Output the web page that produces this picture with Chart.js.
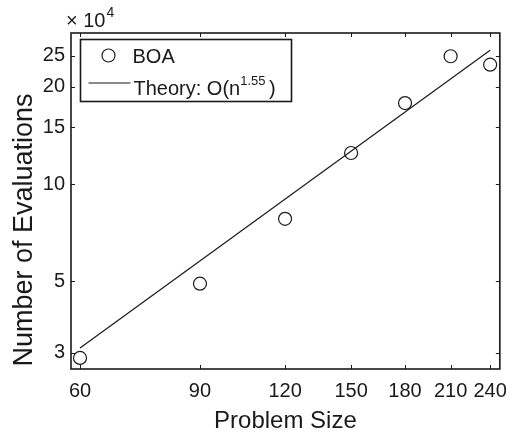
<!DOCTYPE html>
<html>
<head>
<meta charset="utf-8">
<script src="https://cdn.jsdelivr.net/npm/chart.js@4/dist/chart.umd.min.js"></script>
<style>
  body { margin: 0; background: #fff; }
  #wrap { width: 517px; height: 439px; }
</style>
</head>
<body>
<div id="wrap"><canvas id="myChart" width="517" height="439"></canvas></div>
<script>
// Datos (evaluaciones en unidades de 10^4)
const problemSizes = [60, 90, 120, 150, 180, 210, 240];
const boaEvals = [2.89, 4.91, 7.80, 12.48, 17.83, 24.9, 23.45];
const theorySizes = [60, 240];
const theoryEvals = [3.10, 26.0];

// Marcas de los ejes
const xTicks = [60, 90, 120, 150, 180, 210, 240];
const yTicks = [3, 5, 10, 15, 20, 25];

const fontFamily = '"Liberation Sans", Arial, Helvetica, sans-serif';
const ink = '#1a1a1a';

// Dibuja la caja estilo MATLAB, marcas interiores, titulo Y, exponente y leyenda
const matlabAxes = {
    id: 'matlabAxes',
    afterDraw(chart) {
        const ctx = chart.ctx;
        const { left, right, top, bottom } = chart.chartArea;
        const xs = chart.scales.x;
        const ys = chart.scales.y;
        const tl = 4;

        ctx.save();
        ctx.strokeStyle = ink;
        ctx.lineWidth = 1;
        ctx.beginPath();
        xTicks.forEach(v => {
            const px = Math.round(xs.getPixelForValue(v)) + 0.5;
            ctx.moveTo(px, bottom); ctx.lineTo(px, bottom - tl);
            ctx.moveTo(px, top); ctx.lineTo(px, top + tl);
        });
        yTicks.forEach(v => {
            const py = Math.round(ys.getPixelForValue(v)) + 0.5;
            ctx.moveTo(left, py); ctx.lineTo(left + tl, py);
            ctx.moveTo(right, py); ctx.lineTo(right - tl, py);
        });
        ctx.stroke();

        ctx.lineWidth = 1.6;
        ctx.strokeRect(left, top, right - left, bottom - top);

        // x 10^4
        ctx.fillStyle = ink;
        ctx.textBaseline = 'alphabetic';
        ctx.textAlign = 'left';
        ctx.font = '20px ' + fontFamily;
        ctx.fillText('\u00d7 10', left - 5, 27);
        const w10 = ctx.measureText('\u00d7 10').width;
        ctx.font = '14px ' + fontFamily;
        ctx.fillText('4', left - 5 + w10 + 1, 17);

        // Titulo del eje Y
        ctx.save();
        ctx.translate(32, 230);
        ctx.rotate(-Math.PI / 2);
        ctx.textAlign = 'center';
        ctx.font = '27px ' + fontFamily;
        ctx.fillText('Number of Evaluations', 0, 0);
        ctx.restore();

        // Leyenda
        const lx = left + 9.5, ly = top + 6.5;
        ctx.fillStyle = '#fff';
        ctx.fillRect(lx, ly, 211, 62);
        ctx.lineWidth = 1.6;
        ctx.strokeRect(lx, ly, 211, 62);

        ctx.lineWidth = 1.2;
        ctx.beginPath();
        ctx.arc(lx + 28, ly + 16, 6.5, 0, Math.PI * 2);
        ctx.stroke();
        ctx.beginPath();
        ctx.moveTo(lx + 8, ly + 43.5);
        ctx.lineTo(lx + 50, ly + 43.5);
        ctx.stroke();

        ctx.fillStyle = ink;
        ctx.font = '20px ' + fontFamily;
        ctx.fillText('BOA', lx + 52, ly + 23);
        const base = 'Theory: O(n';
        ctx.fillText(base, lx + 53, ly + 55);
        const wb = ctx.measureText(base).width;
        ctx.font = '13px ' + fontFamily;
        ctx.fillText('1.55', lx + 53 + wb, ly + 45);
        const ws = ctx.measureText('1.55 ').width;
        ctx.font = '20px ' + fontFamily;
        ctx.fillText(')', lx + 53 + wb + ws, ly + 55);
        ctx.restore();
    }
};

const config = {
    type: 'scatter',
    data: {
        datasets: [
            {
                label: 'BOA',
                data: problemSizes.map((x, i) => ({ x, y: boaEvals[i] })),
                showLine: false,
                pointStyle: 'circle',
                pointRadius: 6.5,
                pointBorderWidth: 1.2,
                borderColor: ink,
                backgroundColor: 'rgba(0,0,0,0)'
            },
            {
                label: 'Theory',
                data: theorySizes.map((x, i) => ({ x, y: theoryEvals[i] })),
                showLine: true,
                pointRadius: 0,
                borderWidth: 1.2,
                borderColor: ink,
                backgroundColor: ink
            }
        ]
    },
    options: {
        responsive: false,
        animation: false,
        layout: { padding: { left: 0, right: 7, top: 33, bottom: 0 } },
        plugins: {
            legend: { display: false },
            tooltip: { enabled: false }
        },
        scales: {
            x: {
                type: 'logarithmic',
                min: 58.2,
                max: 248,
                afterBuildTicks: s => { s.ticks = xTicks.map(v => ({ value: v })); },
                afterFit: s => { s.height = 70; },
                grid: { display: false, drawTicks: false },
                border: { display: false },
                ticks: {
                    autoSkip: false,
                    maxRotation: 0,
                    padding: 10,
                    color: ink,
                    font: { family: fontFamily, size: 20 },
                    callback: v => String(v)
                },
                title: {
                    display: true,
                    text: 'Problem Size',
                    color: ink,
                    font: { family: fontFamily, size: 24 },
                    padding: { top: 0, bottom: 3 }
                }
            },
            y: {
                type: 'logarithmic',
                min: 2.67,
                max: 29.4,
                afterBuildTicks: s => { s.ticks = yTicks.map(v => ({ value: v })); },
                afterFit: s => { s.width = 71; },
                grid: { display: false, drawTicks: false },
                border: { display: false },
                ticks: {
                    autoSkip: false,
                    padding: 6,
                    color: ink,
                    font: { family: fontFamily, size: 20 },
                    callback: v => String(v)
                }
            }
        }
    },
    plugins: [matlabAxes]
};

const canvas = document.querySelector('#myChart');
const myChart = new Chart(canvas, config);
</script>
</body>
</html>
